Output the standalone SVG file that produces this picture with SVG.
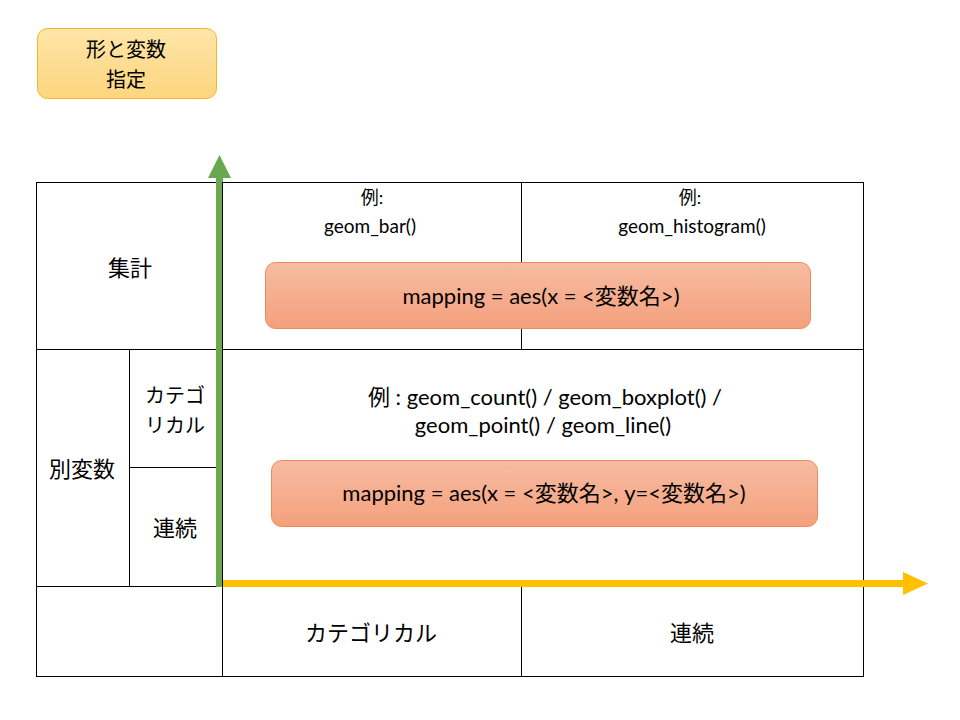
<svg xmlns="http://www.w3.org/2000/svg" width="960" height="720" viewBox="0 0 960 720">
<defs>
<linearGradient id="gOr" x1="0" y1="0" x2="0" y2="1"><stop offset="0" stop-color="#f7bca2"/><stop offset="1" stop-color="#f4a07c"/></linearGradient>
<linearGradient id="gYe" x1="0" y1="0" x2="0" y2="1"><stop offset="0" stop-color="#fee5a8"/><stop offset="1" stop-color="#fdd57e"/></linearGradient>
</defs>
<style>
.t{font-family:Lato,"Noto Sans CJK JP",sans-serif;fill:#000;text-anchor:middle;dominant-baseline:central}
.j{font-family:"Noto Sans CJK JP",sans-serif;font-size:22px}
.s{font-size:20px}
.g{stroke:#000;stroke-width:1;fill:none}
</style>
<rect width="960" height="720" fill="#fff"/>
<g id="title">
<rect x="37.5" y="28.5" width="179" height="70" rx="10" fill="url(#gYe)" stroke="#f2b62a"/>
<text class="t j s" x="126" y="48">形と変数</text>
<text class="t j s" x="126" y="78">指定</text>
</g>
<g id="table">
<rect class="g" x="36.5" y="182.5" width="827" height="494"/>
<line class="g" x1="36" y1="349.5" x2="864" y2="349.5"/>
<line class="g" x1="36" y1="586.5" x2="864" y2="586.5"/>
<line class="g" x1="222.5" y1="182" x2="222.5" y2="677"/>
<line class="g" x1="521.5" y1="182" x2="521.5" y2="349"/>
<line class="g" x1="521.5" y1="586" x2="521.5" y2="677"/>
<line class="g" x1="129.5" y1="349" x2="129.5" y2="586"/>
<line class="g" x1="129" y1="467.5" x2="222" y2="467.5"/>
</g>
<g id="labels">
<text class="t j" x="130" y="266">集計</text>
<text class="t j" x="82" y="467">別変数</text>
<text class="t j s" x="175" y="394">カテゴ</text>
<text class="t j s" x="175" y="424">リカル</text>
<text class="t j" x="175" y="526">連続</text>
<text class="t j" x="371" y="631">カテゴリカル</text>
<text class="t j" x="692" y="631">連続</text>
<text class="t" x="372" y="197" font-size="18">例:</text>
<text class="t" x="370" y="225" font-size="19">geom_bar()</text>
<text class="t" x="690" y="197" font-size="18">例:</text>
<text class="t" x="692" y="225" font-size="19">geom_histogram()</text>
<text class="t" x="545" y="396" font-size="22">例 : geom_count() / geom_boxplot() /</text>
<text class="t" x="543" y="424" font-size="22">geom_point() / geom_line()</text>
</g>
<g id="box1">
<rect x="265.5" y="262.5" width="545" height="66" rx="10" fill="url(#gOr)" stroke="#ee8a5a"/>
<text class="t" x="541" y="295" font-size="22">mapping = aes(x = &lt;変数名&gt;)</text>
</g>
<g id="box2">
<rect x="271.5" y="460.5" width="546" height="66" rx="10" fill="url(#gOr)" stroke="#ee8a5a"/>
<text class="t" x="544" y="492" font-size="22">mapping = aes(x = &lt;変数名&gt;, y=&lt;変数名&gt;)</text>
</g>
<g id="connectors">
<rect x="216" y="177" width="7" height="410" fill="#6aa84f"/>
<polygon points="208,178 231,178 219.5,155" fill="#6aa84f"/>
<line x1="222.5" y1="182" x2="222.5" y2="587" stroke="#000" stroke-width="1"/>
<rect x="223" y="580" width="682" height="7" fill="#ffc000"/>
<polygon points="903,572 903,595 928,583.5" fill="#ffc000"/>
</g>
</svg>
